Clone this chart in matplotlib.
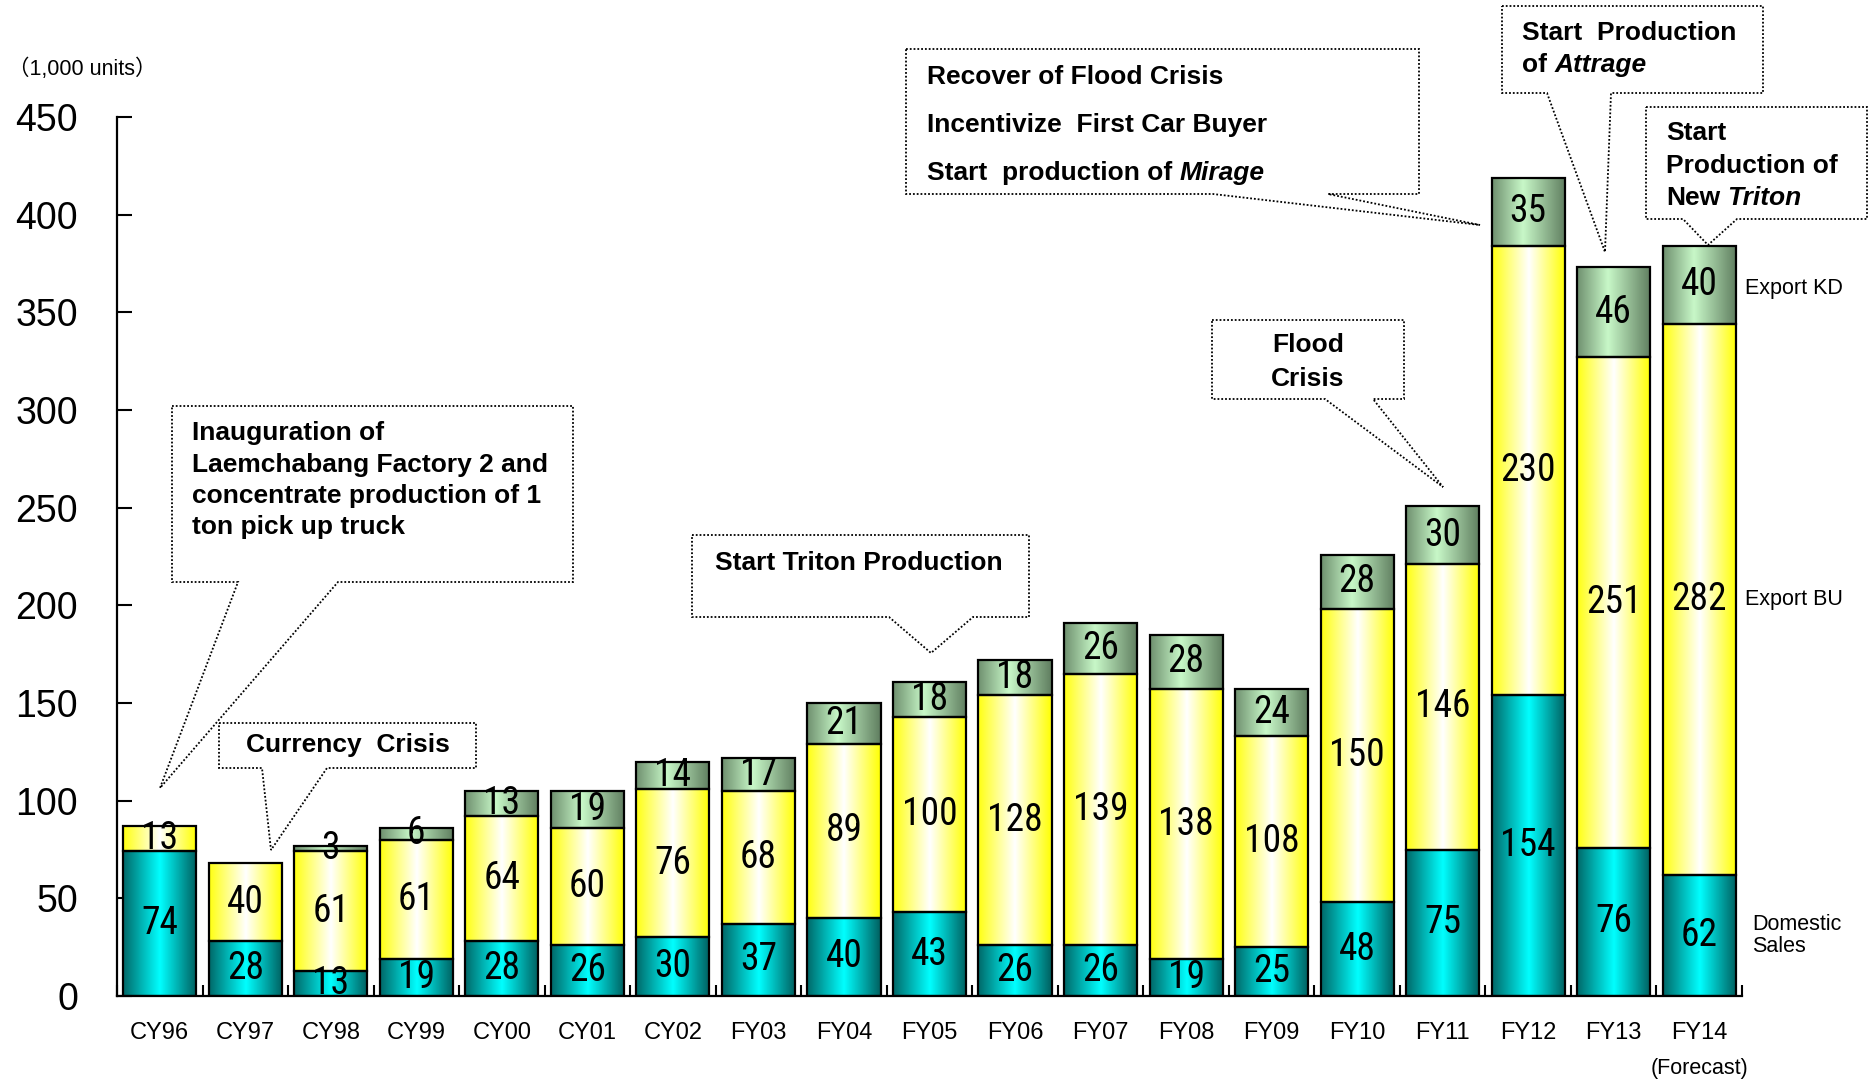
import numpy as np
import matplotlib.pyplot as plt
from matplotlib.colors import LinearSegmentedColormap
from matplotlib.patches import Polygon
from matplotlib import font_manager

plt.rcParams['font.family'] = ['Liberation Sans', 'DejaVu Sans']

jahre = ['CY96', 'CY97', 'CY98', 'CY99', 'CY00', 'CY01', 'CY02', 'FY03', 'FY04', 'FY05',
         'FY06', 'FY07', 'FY08', 'FY09', 'FY10', 'FY11', 'FY12', 'FY13', 'FY14']
inland = [74, 28, 13, 19, 28, 26, 30, 37, 40, 43, 26, 26, 19, 25, 48, 75, 154, 76, 62]
export_bu = [13, 40, 61, 61, 64, 60, 76, 68, 89, 100, 128, 139, 138, 108, 150, 146, 230, 251, 282]
export_kd = [0, 0, 3, 6, 13, 19, 14, 17, 21, 18, 18, 26, 28, 24, 28, 30, 35, 46, 40]
y_ticks = [0, 50, 100, 150, 200, 250, 300, 350, 400, 450]

# schmale Schrift fuer die Zahlen, falls vorhanden
namen = {f.name for f in font_manager.fontManager.ttflist}
schmal = [n for n in ['Roboto Condensed', 'Liberation Sans Narrow', 'DejaVu Sans Condensed'] if n in namen]
zahl_font = dict(family=schmal + ['DejaVu Sans'], stretch='condensed')
print(schmal)

W, H = 1874, 1084
fig = plt.figure(figsize=(W / 100, H / 100), dpi=100)
ax = fig.add_axes([117 / W, 1 - 996 / H, (1742 - 117) / W, (996 - 117) / H])

x = np.arange(len(jahre))
breite = 0.855
verlauf = np.linspace(0, 1, 256).reshape(1, -1)

cm_inland = LinearSegmentedColormap.from_list('inland', [(0, '#006868'), (0.5, '#00ffff'), (1, '#005e5e')])
cm_bu = LinearSegmentedColormap.from_list('bu', [(0, '#ffff10'), (0.5, '#ffffff'), (1, '#ffff00')])
cm_kd = LinearSegmentedColormap.from_list('kd', [(0, '#6f906f'), (0.42, '#c8f8c8'), (1, '#5f7d5f')])


def balken(unten, werte, cmap):
    bars = ax.bar(x, werte, breite, bottom=unten, facecolor='none', edgecolor='black',
                  linewidth=1.6, zorder=3)
    for b, w in zip(bars, werte):
        if w <= 0:
            b.set_visible(False)
            continue
        x0, y0 = b.get_x(), b.get_y()
        im = ax.imshow(verlauf, cmap=cmap, aspect='auto', interpolation='bilinear', zorder=2,
                       extent=[x0, x0 + b.get_width(), y0, y0 + b.get_height()])
        im.set_clip_path(b)
        ax.text(b.get_x() + b.get_width() / 2, y0 + w / 2, str(w), ha='center', va='center',
                fontsize=27, zorder=4, **zahl_font)


unten_bu = np.array(inland)
unten_kd = unten_bu + np.array(export_bu)
balken(np.zeros(len(x)), inland, cm_inland)
balken(unten_bu, export_bu, cm_bu)
balken(unten_kd, export_kd, cm_kd)

ax.set_xlim(-0.5, len(x) - 0.5)
ax.set_ylim(0, 450)
ax.set_yticks(y_ticks)
ax.set_xticks(np.arange(-0.5, len(x), 1))
ax.set_xticklabels([])
ax.set_xticks(x, minor=True)
ax.set_xticklabels(jahre, minor=True)
ax.tick_params(axis='x', which='major', direction='in', length=8, width=1.5)
ax.tick_params(axis='x', which='minor', length=0, pad=19, labelsize=17)
ax.tick_params(axis='y', direction='in', length=11, width=1.5, labelsize=27, pad=28)
for s in ['top', 'right']:
    ax.spines[s].set_visible(False)
for s in ['left', 'bottom']:
    ax.spines[s].set_linewidth(1.6)

# Beschriftung rechts am letzten Balken
letzter = len(x) - 1
ax.text(18.53, unten_kd[letzter] + export_kd[letzter] / 2 - 2, 'Export KD', fontsize=15.5, va='center')
ax.text(18.53, unten_bu[letzter] + export_bu[letzter] / 2, 'Export BU', fontsize=15.5, va='center')
ax.text(18.62, inland[letzter] / 2, 'Domestic\nSales', fontsize=15.5, va='center', linespacing=1.1)
ax.annotate('(Forecast)', xy=(letzter, 0), xytext=(0, -52), textcoords='offset points',
            ha='center', va='center', fontsize=15.5)

fig.text(8 / W, 1 - 69 / H, '（1,000 units）', fontsize=15.5, va='center',
         family=['Liberation Sans', 'Noto Sans CJK JP'])


def px(xp, yp):
    return xp / W, 1 - yp / H


def sprechblase(x0, y0, x1, y1, b1, b2, spitze):
    punkte = [(x0, y0), (x1, y0), (x1, y1), (b2, y1), spitze, (b1, y1), (x0, y1)]
    poly = Polygon([px(*p) for p in punkte], closed=True, fill=False, edgecolor='black',
                   linewidth=1.3, linestyle=(0, (1, 1.1)), transform=fig.transFigure)
    fig.patches.append(poly)


sprechblase(172, 406, 573, 582, 238, 338, (160, 788))
sprechblase(219, 723, 476, 768, 262, 327, (271, 850))
sprechblase(692, 535, 1029, 617, 889, 973, (931, 653))
sprechblase(906, 49, 1419, 194, 1213, 1328, (1480, 225))
sprechblase(1212, 320, 1404, 399, 1325, 1373, (1443, 487))
sprechblase(1502, 6, 1763, 93, 1547, 1611, (1605, 252))
sprechblase(1646, 107, 1867, 219, 1683, 1737, (1708, 245))

renderer = fig.canvas.get_renderer()
gr = 19


def zeile(xp, yp, teile):
    # teile: Liste aus (text, kursiv)
    pos = xp
    for text, kursiv in teile:
        t = fig.text(pos / W, 1 - yp / H, text, fontsize=gr, fontweight='bold',
                     style='italic' if kursiv else 'normal', ha='left', va='center')
        bb = t.get_window_extent(renderer)
        pos = bb.x1 + 0.28 * gr * 100 / 72


def mitte(xp, yp, text):
    fig.text(xp / W, 1 - yp / H, text, fontsize=gr, fontweight='bold', ha='center', va='center')


zeile(192, 433, [('Inauguration of', False)])
zeile(192, 465, [('Laemchabang Factory 2 and', False)])
zeile(192, 496, [('concentrate production of 1', False)])
zeile(192, 527, [('ton pick up truck', False)])
mitte(348, 745, 'Currency  Crisis')
mitte(859, 563, 'Start Triton Production')
zeile(927, 77, [('Recover of Flood Crisis', False)])
zeile(927, 125, [('Incentivize  First Car Buyer', False)])
zeile(927, 173, [('Start  production of', False), ('Mirage', True)])
mitte(1308, 345, 'Flood')
mitte(1308, 379, 'Crisis')
zeile(1522, 33, [('Start  Production', False)])
zeile(1522, 65, [('of', False), ('Attrage', True)])
zeile(1666, 133, [('Start', False)])
zeile(1666, 166, [('Production of', False)])
zeile(1666, 198, [('New', False), ('Triton', True)])

fig.savefig('out.png', dpi=100)
